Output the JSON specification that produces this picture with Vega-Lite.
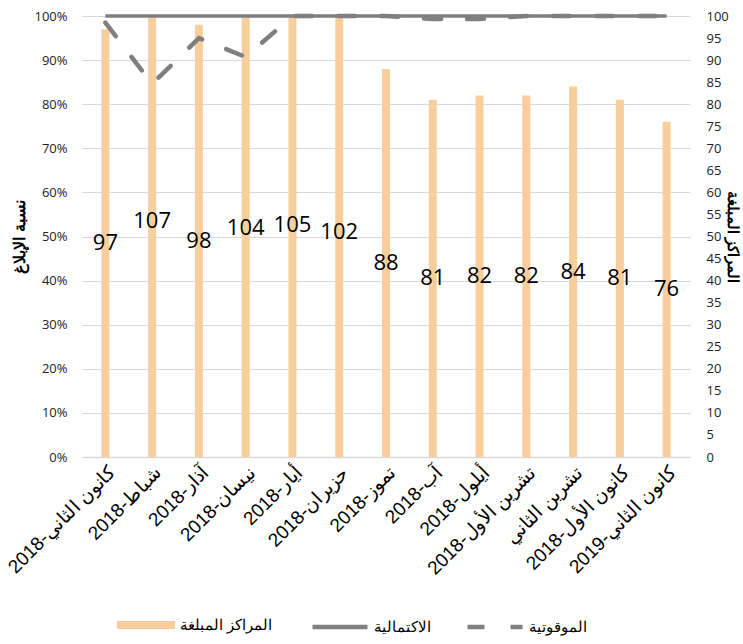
{
  "$schema": "https://vega.github.io/schema/vega-lite/v6.json",
  "width": 608,
  "height": 441,
  "autosize": "none",
  "padding": {"left": 82, "top": 16, "right": 53, "bottom": 187},
  "config": {
    "view": {"stroke": null},
    "font": "Liberation Sans",
    "axis": {"labelColor": "#222", "titleColor": "#000"}
  },
  "data": {
    "values": [
      {"m": "كانون الثاني-2018", "n": 97, "c": 1, "t": 0.985},
      {"m": "شباط-2018", "n": 107, "c": 1, "t": 0.846},
      {"m": "آذار-2018", "n": 98, "c": 1, "t": 0.95},
      {"m": "نيسان-2018", "n": 104, "c": 1, "t": 0.907},
      {"m": "أيار-2018", "n": 105, "c": 1, "t": 1},
      {"m": "حزيران-2018", "n": 102, "c": 1, "t": 1},
      {"m": "تموز-2018", "n": 88, "c": 1, "t": 1},
      {"m": "آب-2018", "n": 81, "c": 1, "t": 0.993},
      {"m": "أيلول-2018", "n": 82, "c": 1, "t": 0.993},
      {"m": "تشرين الأول-2018", "n": 82, "c": 1, "t": 1},
      {"m": "تشرين الثاني", "n": 84, "c": 1, "t": 1},
      {"m": "كانون الأول-2018", "n": 81, "c": 1, "t": 1},
      {"m": "كانون الثاني-2019", "n": 76, "c": 1, "t": 1}
    ]
  },
  "encoding": {
    "x": {
      "field": "m", "type": "nominal", "sort": null,
      "scale": {"paddingInner": 0, "paddingOuter": 0},
      "axis": {
        "title": null, "labelAngle": -45, "labelAlign": "right", "labelBaseline": "top",
        "labelFontSize": 19, "labelFont": "Liberation Sans", "labelColor": "#000", "labelLimit": 300,
        "labelPadding": 6, "ticks": false, "domainColor": "#D9D9D9", "domainWidth": 1.5
      }
    }
  },
  "layer": [
    {
      "mark": {"type": "bar", "size": 8},
      "encoding": {
        "y": {
          "field": "n", "type": "quantitative",
          "scale": {"domain": [0, 100], "clamp": true, "nice": false},
          "axis": {
            "orient": "right", "values": [0,5,10,15,20,25,30,35,40,45,50,55,60,65,70,75,80,85,90,95,100],
            "grid": false, "domain": false, "ticks": false, "labelPadding": 16,
            "labelFont": "Open Sans", "labelFontSize": 13,
            "title": "المراكز المبلغة", "titleFontSize": 15, "titleFontWeight": "bold", "titlePadding": -4
          }
        },
        "color": {
          "datum": "المراكز المبلغة",
          "scale": {"domain": ["المراكز المبلغة"], "range": ["#F8CF9C"]},
          "legend": {
            "title": null, "orient": "none", "legendX": 35, "legendY": 580,
            "labelFontSize": 15, "labelColor": "#000", "labelOffset": 5,
            "symbolType": "M-1,-0.14H1V0.14H-1Z", "symbolSize": 3364, "symbolStrokeWidth": 0
          }
        }
      }
    },
    {
      "mark": {"type": "line", "strokeWidth": 3.5, "color": "#7F7F7F"},
      "encoding": {
        "y": {
          "field": "c", "type": "quantitative",
          "scale": {"domain": [0, 1], "nice": false},
          "axis": {
            "orient": "left", "format": "%", "values": [0,0.1,0.2,0.3,0.4,0.5,0.6,0.7,0.8,0.9,1],
            "grid": true, "gridColor": "#D9D9D9", "domain": false, "ticks": false, "labelPadding": 15,
            "labelFont": "Open Sans", "labelFontSize": 13,
            "title": "نسبة الإبلاغ", "titleFontSize": 16, "titleFontWeight": "bold", "titlePadding": 6
          }
        },
        "strokeDash": {
          "datum": "الاكتمالية",
          "scale": {"domain": ["الاكتمالية", "الموقوتية"], "range": [[1, 0], [17, 26]]},
          "legend": {
            "title": null, "orient": "none", "legendX": 228, "legendY": 581, "direction": "horizontal",
            "labelFontSize": 15, "labelColor": "#000", "labelOffset": 4, "columnPadding": 27,
            "symbolType": "stroke", "symbolSize": 3025, "symbolStrokeWidth": 4.5, "symbolStrokeColor": "#7F7F7F"
          }
        }
      }
    },
    {
      "mark": {"type": "line", "strokeWidth": 4.5, "strokeCap": "round", "color": "#7F7F7F"},
      "encoding": {
        "y": {"field": "t", "type": "quantitative", "scale": {"domain": [0, 1], "nice": false}, "axis": null},
        "strokeDash": {"datum": "الموقوتية"}
      }
    },
    {
      "mark": {"type": "text", "font": "Open Sans", "fontSize": 22, "color": "#000", "baseline": "middle", "align": "center"},
      "encoding": {
        "y": {"field": "n", "type": "quantitative", "scale": {"domain": [0, 200], "nice": false}, "axis": null},
        "text": {"field": "n", "type": "quantitative"}
      }
    }
  ],
  "resolve": {"scale": {"y": "independent"}}
}
